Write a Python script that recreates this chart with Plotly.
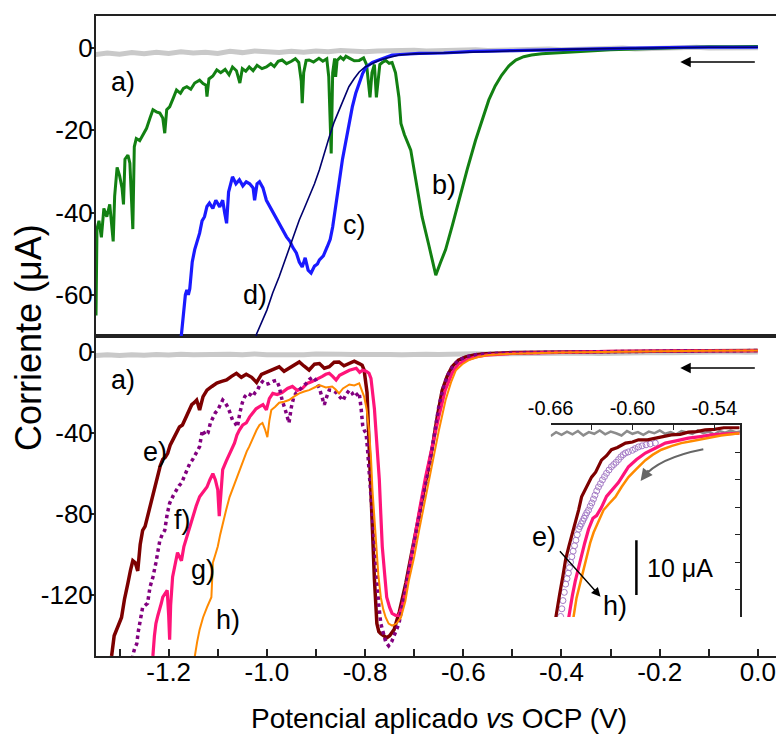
import plotly.graph_objects as go

FONT = "Liberation Sans, Arial, sans-serif"

# ---------------- tick labels ----------------
x_tick_vals = [-1.2, -1.0, -0.8, -0.6, -0.4, -0.2, 0.0]
x_tick_text = ["-1.2", "-1.0", "-0.8", "-0.6", "-0.4", "-0.2", "0.0"]
x_minor_vals = [-1.3, -1.1, -0.9, -0.7, -0.5, -0.3, -0.1]
top_y_vals = [0, -20, -40, -60]
top_y_text = ["0", "-20", "-40", "-60"]
bot_y_vals = [0, -40, -80, -120]
bot_y_text = ["0", "-40", "-80", "-120"]
inset_x_vals = [-0.66, -0.63, -0.60, -0.57, -0.54]
inset_x_text = ["-0.66", "", "-0.60", "", "-0.54"]
inset_y_vals = [0, -5, -10, -15, -20, -25, -30, -35]
scale_bar_value = 10

# ---------------- curve a) (blank) ----------------
gray_x = [-1.35, -1.325, -1.3, -1.275, -1.25, -1.225, -1.2, -1.175, -1.15, -1.125,
          -1.1, -1.075, -1.05, -1.025, -1.0, -0.975, -0.95, -0.925, -0.9, -0.875,
          -0.85, -0.825, -0.8, -0.775, -0.75, -0.725, -0.7, -0.675, -0.65, -0.625,
          -0.6, -0.575, -0.55, -0.525, -0.5, -0.475, -0.45, -0.425, -0.4, -0.375,
          -0.35, -0.325, -0.3, -0.275, -0.25, -0.225, -0.2, -0.175, -0.15, -0.125,
          -0.1, -0.075, -0.05, -0.025, 0.0]
gray_top_y = [-1.6, -1.2, -1.5, -1.1, -1.4, -1.0, -1.3, -0.9, -1.2, -1.0,
              -1.3, -0.8, -1.1, -0.7, -0.9, -1.1, -0.8, -1.0, -0.7, -0.9,
              -0.6, -0.8, -0.9, -0.7, -0.6, -0.8, -0.5, -0.7, -0.6, -0.5,
              -0.7, -0.4, -0.6, -0.5, -0.3, -0.5, -0.4, -0.2, -0.4, -0.3,
              -0.1, -0.3, -0.2, 0.0, -0.2, -0.1, 0.1, -0.1, 0.0, 0.2,
              0.0, 0.1, 0.2, 0.0, 0.1]
gray_bot_y = [-1.8, -1.4, -1.7, -1.3, -1.6, -1.2, -1.5, -1.1, -1.4, -1.2,
              -1.6, -1.1, -1.4, -1.0, -1.3, -1.5, -1.1, -1.4, -1.0, -1.3,
              -1.1, -1.2, -1.4, -1.0, -1.2, -1.3, -0.9, -1.1, -1.2, -0.9,
              -1.1, -0.8, -1.0, -0.9, -0.7, -0.9, -0.8, -0.6, -0.8, -0.7,
              -0.5, -0.7, -0.5, -0.3, -0.5, -0.4, -0.2, -0.4, -0.2, 0.0,
              -0.2, -0.1, 0.1, -0.1, 0.0]

# ---------------- top panel: b) green ----------------
green_x = [-1.348, -1.346, -1.342, -1.337, -1.332, -1.326, -1.32, -1.315, -1.313, -1.31,
           -1.305, -1.3, -1.295, -1.292, -1.289, -1.283, -1.279, -1.276, -1.273, -1.27,
           -1.266, -1.259, -1.252, -1.245, -1.238, -1.232, -1.225, -1.218, -1.212, -1.208,
           -1.204, -1.198, -1.19, -1.184, -1.176, -1.17, -1.163, -1.155, -1.147, -1.137,
           -1.13, -1.124, -1.122, -1.118, -1.11, -1.102, -1.094, -1.085, -1.077, -1.07,
           -1.062, -1.058, -1.055, -1.05, -1.043, -1.036, -1.028, -1.02, -1.01, -1.001,
           -0.992, -0.985, -0.977, -0.969, -0.96, -0.95, -0.942, -0.935, -0.93, -0.928,
           -0.925, -0.92, -0.914, -0.905, -0.894, -0.886, -0.878, -0.874, -0.871, -0.869,
           -0.866, -0.862, -0.86, -0.857, -0.85, -0.844, -0.839, -0.83, -0.822, -0.812,
           -0.803, -0.797, -0.793, -0.79, -0.786, -0.781, -0.777, -0.774, -0.77, -0.765,
           -0.758, -0.751, -0.745, -0.738, -0.731, -0.727, -0.72, -0.707, -0.695, -0.684,
           -0.67, -0.656, -0.646, -0.636, -0.622, -0.609, -0.592, -0.575, -0.561, -0.548,
           -0.535, -0.522, -0.507, -0.493, -0.477, -0.461, -0.44, -0.4, -0.35, -0.3,
           -0.25, -0.2, -0.15, -0.1, -0.05, 0.0]
green_y = [-65, -44, -42, -46, -39, -41, -38, -44, -47, -36,
           -29, -31, -34, -38, -27, -26, -28, -36, -44, -24,
           -22, -22.5, -21, -19.5, -17, -15, -15.5, -15.8, -17, -20.7,
           -15, -14.3, -12, -10.2, -11, -9.8, -9.4, -10, -8.5, -7.8,
           -8.6, -9, -11.8, -7.5, -6.8, -5.3, -6, -5.2, -6.5, -4.6,
           -5.5, -7, -8.5, -5, -5.6, -4.6, -5.5, -4.2, -5, -4.6,
           -3.8, -4.5, -3.2, -2.9, -3.8, -3.2, -2.6, -3.5, -8, -13.4,
           -6, -3, -2.9, -3.4, -2.5, -3.2, -2.6, -7, -18, -25.6,
           -6, -2.5, -7, -3, -2.2, -2.8, -2, -2.6, -3.1, -3,
           -2.4, -4, -9, -12, -6, -4, -12, -9, -4, -3.5,
           -3, -3.7, -3.5, -6, -12, -18.3, -21, -24.8, -33, -41,
           -48, -55.2, -52, -49, -43, -37, -29.5, -22.4, -17, -12.6,
           -9.2, -6.6, -4.3, -2.9, -2.1, -1.7, -1.4, -1.1, -0.8, -0.4,
           -0.2, 0, 0.1, 0.3, 0.3, 0.4]

# ---------------- top panel: c) blue ----------------
blue_x = [-1.176, -1.17, -1.166, -1.163, -1.16, -1.157, -1.152, -1.147, -1.142, -1.137,
          -1.132, -1.127, -1.122, -1.117, -1.11, -1.104, -1.096, -1.09, -1.086, -1.082,
          -1.078, -1.07, -1.063, -1.056, -1.049, -1.042, -1.035, -1.028, -1.025, -1.02,
          -1.015, -1.008, -1.001, -0.994, -0.988, -0.981, -0.974, -0.967, -0.96, -0.953,
          -0.947, -0.94, -0.934, -0.928, -0.922, -0.916, -0.91, -0.903, -0.897, -0.893,
          -0.885, -0.877, -0.871, -0.866, -0.86, -0.853, -0.846, -0.839, -0.833, -0.826,
          -0.819, -0.812, -0.805, -0.798, -0.785, -0.772, -0.76, -0.745, -0.72, -0.69,
          -0.64, -0.58, -0.5, -0.43, -0.35, -0.25, -0.15, -0.05, 0.0]
blue_y = [-72, -65, -60, -58.8, -60, -58.5, -52, -49, -47, -45,
          -42, -41, -38.5, -37.7, -39, -37, -38.6, -37, -40, -42.6,
          -35, -31.3, -33, -32, -33.5, -32.5, -33, -34, -37, -33,
          -32.5, -34, -37, -38.5, -39.5, -41, -42.5, -44, -45.9, -47,
          -48.5, -49.8, -52, -53.2, -51, -54, -54.7, -53, -52.5, -51.5,
          -50.5, -48.3, -46.5, -43.5, -38, -32.8, -27, -22.4, -18, -14.3,
          -11, -8.5, -6.2, -4.6, -3.5, -2.9, -2.3, -1.7, -1.5, -1.3,
          -1.2, -0.8, -0.6, -0.4, -0.2, 0, 0.2, 0.3, 0.2]

# ---------------- top panel: d) navy ----------------
navy_x = [-1.025, -1.021, -1.0, -0.988, -0.975, -0.964, -0.954, -0.944, -0.934, -0.924,
          -0.914, -0.903, -0.893, -0.883, -0.873, -0.863, -0.853, -0.843, -0.833, -0.822,
          -0.812, -0.8, -0.786, -0.772, -0.758, -0.731, -0.7, -0.65, -0.55, -0.45,
          -0.35, -0.25, -0.1, 0.0]
navy_y = [-72, -69.5, -63.7, -59.5, -55.6, -51.8, -48.3, -45, -41.8, -39,
          -36.2, -33, -29.6, -25.5, -21.6, -18, -15, -12, -9.4, -7.4,
          -5.8, -4.6, -3.7, -3, -2.5, -1.7, -1.4, -1.2, -0.8, -0.5,
          -0.2, 0, 0.2, 0.2]

# ---------------- bottom panel: e) dark red ----------------
e_x = [-1.32, -1.316, -1.311, -1.306, -1.301, -1.296, -1.29, -1.286, -1.283, -1.278,
       -1.273, -1.268, -1.263, -1.258, -1.253, -1.248, -1.243, -1.237, -1.232, -1.227,
       -1.222, -1.217, -1.212, -1.207, -1.202, -1.197, -1.192, -1.185, -1.178, -1.172,
       -1.167, -1.16, -1.153, -1.148, -1.143, -1.14, -1.137, -1.13, -1.122, -1.112,
       -1.102, -1.092, -1.082, -1.072, -1.062, -1.052, -1.042, -1.031, -1.021, -1.011,
       -1.001, -0.99, -0.975, -0.965, -0.955, -0.945, -0.934, -0.924, -0.914, -0.903,
       -0.893, -0.883, -0.873, -0.863, -0.853, -0.843, -0.832, -0.822, -0.812, -0.806,
       -0.802, -0.796, -0.792, -0.788, -0.784, -0.781, -0.776, -0.772, -0.768, -0.762,
       -0.756, -0.75, -0.741, -0.73, -0.717, -0.705, -0.69, -0.677, -0.663, -0.653,
       -0.643, -0.633, -0.623, -0.61, -0.595, -0.575, -0.554, -0.5, -0.4, -0.3,
       -0.2, -0.1, 0.0]
e_y = [-155, -149.6, -140, -137, -133, -131, -122, -118, -114, -108,
       -103, -104, -108, -95, -88, -86, -81, -75, -70, -66,
       -60, -56, -53, -52, -50, -46, -43.6, -40, -37, -36,
       -33.6, -30, -26, -25, -23.7, -26, -28.6, -22, -18.8, -17,
       -15.3, -14.5, -13.8, -12, -10.5, -12.5, -11, -12.5, -15, -11,
       -9.9, -8.5, -7.3, -9.5, -8, -6.5, -4.9, -7, -8.9, -6,
       -5.7, -8, -7.3, -5, -4.9, -6.8, -5.7, -4.5, -5.7, -6.5,
       -8.9, -20, -45, -70, -95, -112, -134, -138, -139, -140,
       -141, -140, -137, -128, -114, -99, -81, -64, -47, -32,
       -19, -12, -7.3, -4, -2.4, -1.4, -0.8, -0.3, 0, 0.3,
       0.5, 0.6, 0.7]

# ---------------- bottom panel: f) purple ----------------
f_x = [-1.276, -1.273, -1.269, -1.265, -1.262, -1.259, -1.256, -1.253, -1.248, -1.243,
       -1.238, -1.232, -1.226, -1.222, -1.218, -1.213, -1.208, -1.203, -1.198, -1.191,
       -1.184, -1.179, -1.174, -1.168, -1.163, -1.157, -1.151, -1.144, -1.137, -1.134,
       -1.131, -1.125, -1.12, -1.115, -1.11, -1.105, -1.1, -1.095, -1.09, -1.085,
       -1.08, -1.075, -1.07, -1.065, -1.06, -1.055, -1.05, -1.045, -1.039, -1.034,
       -1.029, -1.024, -1.019, -1.014, -1.009, -1.002, -0.995, -0.988, -0.98, -0.975,
       -0.969, -0.962, -0.955, -0.95, -0.945, -0.94, -0.934, -0.927, -0.92, -0.913,
       -0.906, -0.9, -0.893, -0.888, -0.883, -0.878, -0.873, -0.866, -0.859, -0.852,
       -0.845, -0.839, -0.832, -0.827, -0.822, -0.817, -0.812, -0.808, -0.805, -0.801,
       -0.798, -0.795, -0.792, -0.788, -0.785, -0.78, -0.776, -0.772, -0.768, -0.763,
       -0.758, -0.752, -0.746, -0.741, -0.736, -0.731, -0.721, -0.711, -0.7, -0.69,
       -0.68, -0.67, -0.66, -0.65, -0.64, -0.63, -0.62, -0.609, -0.595, -0.582,
       -0.56, -0.52, -0.45, -0.4, -0.3, -0.2, -0.1, 0.0]
f_y = [-155, -149.6, -146, -144, -138, -134, -130, -126, -125, -124,
       -116, -111, -104, -98, -93, -90, -88, -80, -74.6, -71,
       -68, -66, -64.7, -61, -58, -55, -53, -50, -46.7, -42,
       -38.5, -41, -40, -35, -32, -30, -28.6, -26, -23.7, -25,
       -27, -30, -33.6, -35, -37, -30, -25, -22, -20.4, -21,
       -22, -20, -18.8, -16, -14.6, -16, -15.5, -14.5, -14, -17,
       -23.7, -29, -35, -27, -22, -20, -18.8, -17, -15.5, -13.5,
       -12.3, -14, -18, -22, -26, -22, -18.8, -19, -20, -22,
       -24, -21, -18.8, -20, -22, -21, -20, -28, -36, -39,
       -40, -48, -58, -70, -81, -98, -114, -125, -134, -139,
       -143, -145, -143, -140, -137, -134, -121, -108, -94, -81,
       -69, -58, -42, -27, -17, -10.5, -6.5, -4, -2.5, -1.5,
       -1, -0.5, -0.2, 0, 0.3, 0.4, 0.6, 0.7]

# ---------------- bottom panel: g) pink ----------------
g_x = [-1.236, -1.232, -1.229, -1.226, -1.222, -1.218, -1.215, -1.212, -1.207, -1.203,
       -1.2, -1.198, -1.196, -1.192, -1.187, -1.182, -1.178, -1.174, -1.169, -1.163,
       -1.157, -1.151, -1.144, -1.137, -1.13, -1.122, -1.116, -1.11, -1.105, -1.1,
       -1.097, -1.094, -1.09, -1.083, -1.076, -1.071, -1.066, -1.061, -1.056, -1.049,
       -1.042, -1.035, -1.029, -1.022, -1.015, -1.008, -1.001, -0.995, -0.988, -0.979,
       -0.969, -0.958, -0.948, -0.938, -0.928, -0.918, -0.908, -0.897, -0.887, -0.88,
       -0.873, -0.866, -0.859, -0.852, -0.845, -0.838, -0.832, -0.825, -0.818, -0.811,
       -0.805, -0.798, -0.792, -0.788, -0.785, -0.781, -0.778, -0.774, -0.771, -0.768,
       -0.765, -0.76, -0.756, -0.75, -0.745, -0.738, -0.731, -0.724, -0.717, -0.707,
       -0.697, -0.687, -0.677, -0.663, -0.65, -0.637, -0.623, -0.61, -0.595, -0.575,
       -0.554, -0.5, -0.4, -0.3, -0.2, -0.1, 0.0]
g_y = [-155, -149.6, -140, -134, -130, -127, -124, -121, -119, -117.6,
       -130, -142, -125, -111, -105, -99, -101, -103, -96, -91,
       -86, -81, -76, -71.4, -69, -66.6, -63, -60, -63, -68,
       -81, -70, -58, -54, -50, -47, -45, -41, -38.5, -36,
       -35, -32, -30, -28, -27, -26, -28.6, -23, -20.4, -21,
       -20, -18, -17, -19, -18, -15.5, -14.6, -13, -12, -11,
       -10.5, -12, -13.8, -11.5, -10.5, -9.5, -9, -8.5, -8, -10,
       -9, -9.5, -10.5, -13, -19, -28, -38.5, -50, -63, -80,
       -96, -110, -121, -126, -129, -130, -130, -125, -117, -103,
       -88, -75, -62, -46, -32, -19, -10.5, -6, -4, -2.4,
       -1.5, -0.7, -0.1, 0.3, 0.5, 0.6, 0.7]

# ---------------- bottom panel: h) orange ----------------
h_x = [-1.15, -1.147, -1.142, -1.137, -1.13, -1.122, -1.117, -1.113, -1.111, -1.11,
       -1.105, -1.1, -1.095, -1.09, -1.083, -1.076, -1.069, -1.062, -1.056, -1.051,
       -1.046, -1.041, -1.036, -1.028, -1.021, -1.015, -1.009, -1.004, -0.999, -0.995,
       -0.991, -0.983, -0.975, -0.965, -0.955, -0.945, -0.934, -0.924, -0.914, -0.903,
       -0.893, -0.88, -0.867, -0.86, -0.853, -0.845, -0.832, -0.822, -0.812, -0.802,
       -0.797, -0.792, -0.788, -0.785, -0.781, -0.778, -0.773, -0.768, -0.763, -0.758,
       -0.752, -0.745, -0.736, -0.727, -0.718, -0.711, -0.7, -0.69, -0.677, -0.663,
       -0.65, -0.636, -0.625, -0.615, -0.602, -0.589, -0.57, -0.548, -0.5, -0.4,
       -0.3, -0.2, -0.1, 0.0]
h_y = [-155, -149.6, -143, -137, -131, -126, -123, -121, -110, -104,
       -100, -96, -90, -84.6, -78, -71.6, -67, -63, -58, -55,
       -51.8, -49, -46.7, -42, -38.5, -36, -35, -38, -42, -34,
       -28.6, -27, -25, -24.5, -23.7, -22, -20.4, -19.5, -18.8, -17.5,
       -16.3, -17.5, -17, -18.5, -20.4, -18, -16, -16.5, -15.5, -22,
       -28, -38.5, -52, -68, -82, -96, -110, -121, -127, -131,
       -134, -135, -134, -131, -123, -113, -101, -88, -72, -55,
       -39, -23.7, -15, -9, -6, -4, -2.5, -1.5, -0.8, -0.2,
       0.2, 0.4, 0.6, 0.7]

# ---------------- inset ----------------
ia_x = [-0.660, -0.656, -0.652, -0.648, -0.644, -0.640, -0.636, -0.632, -0.628, -0.624,
        -0.620, -0.616, -0.612, -0.608, -0.604, -0.600, -0.596, -0.592, -0.588, -0.584,
        -0.580, -0.576, -0.572, -0.568, -0.564, -0.560, -0.556, -0.552, -0.548, -0.544,
        -0.540, -0.536, -0.532, -0.528, -0.524, -0.521]
ia_y = [-2.0, -1.3, -1.8, -1.2, -1.7, -1.1, -1.9, -1.3, -1.6, -1.0,
        -1.7, -1.2, -1.5, -1.9, -1.1, -1.6, -1.3, -1.8, -1.2, -1.5,
        -1.0, -1.6, -1.3, -1.7, -1.1, -1.4, -1.6, -1.0, -1.5, -1.2,
        -1.7, -1.1, -1.4, -1.0, -1.3, -1.2]
ie_x = [-0.6575, -0.6563, -0.6535, -0.651, -0.649, -0.6465, -0.644, -0.6417, -0.6395, -0.6373,
        -0.635, -0.6325, -0.63, -0.627, -0.6245, -0.6227, -0.619, -0.6154, -0.611, -0.6051,
        -0.6, -0.5956, -0.589, -0.5832, -0.577, -0.5715, -0.565, -0.559, -0.553, -0.5466,
        -0.54, -0.533, -0.5215]
ie_y = [-37, -34.9, -31, -27.5, -24.5, -22, -19.8, -17.8, -15.5, -13.1,
        -12, -10.8, -9.5, -8.6, -7.3, -6.4, -5.6, -4.5, -4.1, -3.3,
        -3.1, -2.7, -2.7, -2.4, -2.2, -1.8, -1.7, -1.3, -1.2, -0.9,
        -0.8, -0.5, -0.5]
if_x = [-0.6545, -0.6535, -0.6527, -0.6518, -0.651, -0.65, -0.649, -0.648, -0.647, -0.6462,
        -0.6454, -0.6445, -0.6435, -0.6425, -0.6415, -0.6405, -0.6395, -0.6385, -0.6375, -0.6365,
        -0.6355, -0.6345, -0.6335, -0.6322, -0.631, -0.6298, -0.6286, -0.6275, -0.6262, -0.6249,
        -0.6235, -0.622, -0.6205, -0.619, -0.6172, -0.6154, -0.6137, -0.612, -0.6102, -0.6085,
        -0.6068, -0.6051, -0.603, -0.6, -0.598, -0.5956, -0.593, -0.59, -0.587, -0.5832]
if_y = [-37, -36, -34.9, -33.5, -32, -30.5, -29, -28, -27, -26,
        -25, -24, -23, -22, -21, -20, -19, -18.5, -18, -17.5,
        -17, -16.5, -16, -15.5, -14.8, -14.2, -13.5, -12.8, -12, -11.3,
        -10.7, -10, -9.4, -8.8, -8.2, -7.6, -7.2, -6.8, -6.3, -5.8,
        -5.4, -5.1, -4.9, -4.6, -4.3, -4.0, -3.8, -3.6, -3.45, -3.3]
ig_x = [-0.648, -0.6468, -0.644, -0.642, -0.6395, -0.637, -0.635, -0.6322, -0.629, -0.6263,
        -0.6227, -0.619, -0.615, -0.6103, -0.606, -0.6029, -0.597, -0.5905, -0.583, -0.5759,
        -0.568, -0.559, -0.55, -0.5422, -0.532, -0.5215]
ig_y = [-37, -34.9, -31, -28.5, -25.8, -23.5, -21.5, -19, -17, -16.5,
        -15, -13, -11.8, -10.5, -8.8, -7.6, -6.3, -5.1, -4.2, -3.3,
        -2.9, -2.4, -2.1, -1.8, -1.6, -1.5]
ih_x = [-0.6445, -0.6432, -0.641, -0.6385, -0.6359, -0.633, -0.631, -0.6285, -0.625, -0.6212,
        -0.617, -0.6125, -0.608, -0.6029, -0.597, -0.5905, -0.585, -0.5788, -0.571, -0.5642,
        -0.556, -0.5466, -0.535, -0.5215]
ih_y = [-37, -34.9, -31.5, -29, -26.4, -23.8, -21.5, -19.6, -17.5, -15.5,
        -14.3, -13.1, -11.3, -9.5, -8, -6.4, -5.4, -4.5, -3.8, -3.3,
        -2.9, -2.4, -1.9, -1.5]

# ---------------- colours ----------------
C_GRAY = "#c9c9c9"
C_GREEN = "#128012"
C_BLUE = "#1a1aff"
C_NAVY = "#00006e"
C_DRED = "#7d0000"
C_PURPLE = "#82007f"
C_PINK = "#ff1479"
C_ORANGE = "#ff8a00"
AX = "#222222"

fig = go.Figure()


def line(x, y, xa, ya, color, width, dash="solid"):
    fig.add_trace(go.Scatter(x=x, y=y, xaxis=xa, yaxis=ya, mode="lines",
                             line=dict(color=color, width=width, dash=dash),
                             hoverinfo="skip", showlegend=False))


# top panel
line(gray_x, gray_top_y, "x2", "y2", C_GRAY, 5)
line(green_x, green_y, "x2", "y2", C_GREEN, 3)
line(blue_x, blue_y, "x2", "y2", C_BLUE, 3.2)
line(navy_x, navy_y, "x2", "y2", C_NAVY, 1.6)

# bottom panel
line(gray_x, gray_bot_y, "x", "y", C_GRAY, 5)
line(e_x, e_y, "x", "y", C_DRED, 3.5)
line(g_x, g_y, "x", "y", C_PINK, 3.2)
line(f_x, f_y, "x", "y", C_PURPLE, 3.5, "dot")
line(h_x, h_y, "x", "y", C_ORANGE, 2)

# inset
line(ia_x, ia_y, "x3", "y3", "#8c8c8c", 2.5)
fig.add_trace(go.Scatter(x=if_x, y=if_y, xaxis="x3", yaxis="y3", mode="markers",
                         marker=dict(symbol="circle-open", size=6, color="#a57cc6",
                                     line=dict(width=1, color="#a57cc6")),
                         hoverinfo="skip", showlegend=False))
line(ie_x, ie_y, "x3", "y3", C_DRED, 3.2)
line(ig_x, ig_y, "x3", "y3", C_PINK, 3.2)
line(ih_x, ih_y, "x3", "y3", C_ORANGE, 2.5)

common = dict(showgrid=False, zeroline=False, showline=True, linecolor=AX, linewidth=2,
              tickfont=dict(family=FONT, size=26, color="black"))

# The page body has an 8px margin, so the figure is drawn 8px smaller and
# the plot area lands at the same place as in the reference.
fig.update_layout(
    width=776, height=737,
    margin=dict(l=88, r=2, t=8, b=89),
    paper_bgcolor="white", plot_bgcolor="white",
    font=dict(family=FONT, color="black"),
    showlegend=False,
    xaxis=dict(domain=[0, 1], anchor="y", range=[-1.348, 0.045], mirror=True,
               ticks="inside", ticklen=7, tickwidth=1.5, tickcolor=AX,
               tickvals=x_tick_vals, ticktext=x_tick_text, ticklabelstandoff=-8,
               minor=dict(tickmode="array", tickvals=x_minor_vals, ticks="inside",
                          ticklen=7, tickwidth=1.5, tickcolor=AX),
               **common),
    xaxis2=dict(domain=[0, 1], anchor="y2", matches="x", range=[-1.348, 0.045],
                mirror=True, ticks="", showticklabels=False, **common),
    yaxis=dict(domain=[0, 0.5], anchor="x", range=[-150, 7.9], mirror=True,
               ticks="outside", ticklen=4, tickwidth=1.5, tickcolor=AX,
               tickvals=bot_y_vals, ticktext=bot_y_text, ticklabelstandoff=-8, **common),
    yaxis2=dict(domain=[0.5, 1], anchor="x2", range=[-70, 7.8], mirror=True,
                ticks="outside", ticklen=4, tickwidth=1.5, tickcolor=AX,
                tickvals=top_y_vals, ticktext=top_y_text, ticklabelstandoff=-8, **common),
    xaxis3=dict(domain=[0.6647, 0.9417], anchor="y3", side="top", range=[-0.66, -0.521],
                showgrid=False, zeroline=False, showline=True, linecolor=AX, linewidth=1.5,
                ticks="inside", ticklen=5, tickwidth=1.2, tickcolor=AX,
                tickvals=inset_x_vals, ticktext=inset_x_text,
                tickfont=dict(family=FONT, size=20, color="black")),
    yaxis3=dict(domain=[0.0609, 0.3609], anchor="x3", side="right", range=[-35, 0],
                showgrid=False, zeroline=False, showline=True, linecolor=AX, linewidth=1.5,
                ticks="inside", ticklen=5, tickwidth=1.2, tickcolor=AX,
                tickvals=inset_y_vals, showticklabels=False),
)

ann = []


def label(text, x, y, xref, yref, size=27):
    ann.append(dict(text=text, x=x, y=y, xref=xref, yref=yref, showarrow=False,
                    font=dict(family=FONT, size=size, color="black"),
                    xanchor="center", yanchor="middle"))


label("a)", -1.293, -8.3, "x2", "y2")
label("b)", -0.64, -33.3, "x2", "y2")
label("c)", -0.822, -43, "x2", "y2")
label("d)", -1.025, -60, "x2", "y2")
label("a)", -1.293, -13.8, "x", "y")
label("e)", -1.228, -49.4, "x", "y")
label("f)", -1.171, -83, "x", "y")
label("g)", -1.131, -107.7, "x", "y")
label("h)", -1.08, -132, "x", "y")
label("e)", 0.6545, 0.186, "paper", "paper")   # sits just left of the inset frame
label("h)", -0.6125, -33, "x3", "y3")
label("%d \u03bcA" % scale_bar_value, -0.5649, -26, "x3", "y3", 25)

# scan direction arrows
for xr, yr, yv in (("x2", "y2", -3.4), ("x", "y", -7.9)):
    ann.append(dict(text="", x=-0.158, y=yv, xref=xr, yref=yr, ax=76, ay=0,
                    showarrow=True, arrowhead=2, arrowsize=1.3, arrowwidth=1.6,
                    arrowcolor="black", standoff=0))
# inset e) -> h) arrow
ann.append(dict(text="", x=-0.6234, y=-31.3, xref="x3", yref="y3", ax=-42, ay=-47,
                showarrow=True, arrowhead=2, arrowsize=1.3, arrowwidth=1.4,
                arrowcolor="black", standoff=0))
# inset curved gray arrow head
ann.append(dict(text="", x=-0.594, y=-10.2, xref="x3", yref="y3", ax=9, ay=-12,
                showarrow=True, arrowhead=2, arrowsize=1.2, arrowwidth=2,
                arrowcolor="#666666", standoff=0))

# axis titles
ann.append(dict(text="Potencial aplicado <i>vs</i> OCP (V)", x=0.5015, y=-0.097,
                xref="paper", yref="paper", showarrow=False, xanchor="center",
                yanchor="middle", font=dict(family=FONT, size=28, color="black")))
ann.append(dict(text="Corriente (\u03bcA)", x=-0.0977, y=0.497, xref="paper", yref="paper",
                showarrow=False, textangle=-90, xanchor="center", yanchor="middle",
                font=dict(family=FONT, size=36, color="black")))

fig.update_layout(annotations=ann)

fig.update_layout(shapes=[
    dict(type="line", xref="x3", yref="y3", x0=-0.5971, x1=-0.5971,
         y0=-21, y1=-21 - scale_bar_value, line=dict(color="black", width=2.5)),
    dict(type="path", xref="x3", yref="y3",
         path="M -0.548,-4.4 Q -0.581,-6.0 -0.5925,-9.6",
         line=dict(color="#666666", width=2)),
])

fig.write_html("out.html")
